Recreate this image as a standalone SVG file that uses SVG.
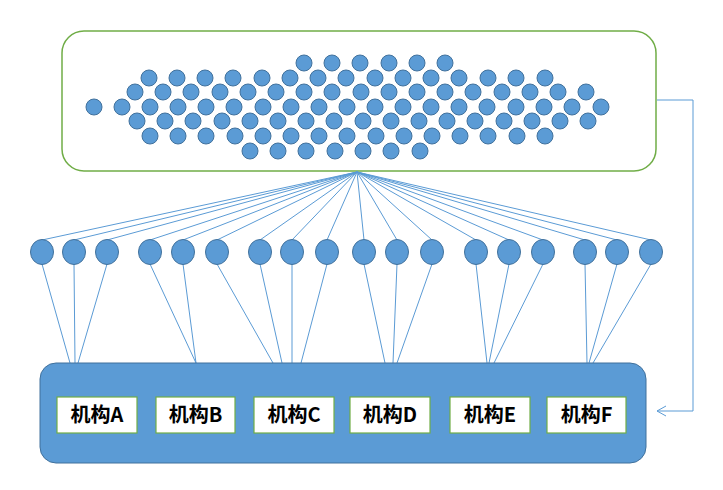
<svg xmlns="http://www.w3.org/2000/svg" width="723" height="490" viewBox="0 0 723 490">
<style>
.d{fill:#5b9bd5;stroke:#41719c;stroke-width:1}
.l{stroke:#5b9bd5;stroke-width:1;fill:none}
.lb{fill:#fff;stroke:#70ad47;stroke-width:1.2}
.t{font-family:"Noto Sans CJK SC","Liberation Sans",sans-serif;font-weight:bold;font-size:20px;fill:#000;text-anchor:middle}
</style>
<defs><marker id="a" markerWidth="12" markerHeight="12" refX="10" refY="6" orient="auto" markerUnits="userSpaceOnUse"><path d="M1,1 L10,6 L1,11" fill="none" stroke="#5b9bd5" stroke-width="1"/></marker></defs>
<g id="top"><rect x="62" y="31" width="594" height="140" rx="22" fill="#fff" stroke="#70ad47" stroke-width="1.5"/>
<g id="grid" class="d">
<circle cx="304" cy="63" r="8"/><circle cx="332" cy="63" r="8"/><circle cx="360" cy="63" r="8"/><circle cx="389" cy="63" r="8"/><circle cx="417" cy="63" r="8"/><circle cx="445" cy="63" r="8"/>
<circle cx="149" cy="78" r="8"/><circle cx="177" cy="78" r="8"/><circle cx="205" cy="78" r="8"/><circle cx="233" cy="78" r="8"/><circle cx="262" cy="78" r="8"/><circle cx="290" cy="78" r="8"/><circle cx="318" cy="78" r="8"/><circle cx="346" cy="78" r="8"/><circle cx="375" cy="78" r="8"/><circle cx="403" cy="78" r="8"/><circle cx="431" cy="78" r="8"/><circle cx="459" cy="78" r="8"/><circle cx="488" cy="78" r="8"/><circle cx="516" cy="78" r="8"/><circle cx="545" cy="78" r="8"/>
<circle cx="135" cy="92" r="8"/><circle cx="163" cy="92" r="8"/><circle cx="191" cy="92" r="8"/><circle cx="220" cy="92" r="8"/><circle cx="248" cy="92" r="8"/><circle cx="276" cy="92" r="8"/><circle cx="304" cy="92" r="8"/><circle cx="332" cy="92" r="8"/><circle cx="361" cy="92" r="8"/><circle cx="389" cy="92" r="8"/><circle cx="417" cy="92" r="8"/><circle cx="445" cy="92" r="8"/><circle cx="473" cy="92" r="8"/><circle cx="502" cy="92" r="8"/><circle cx="530" cy="92" r="8"/><circle cx="558" cy="92" r="8"/><circle cx="586" cy="92" r="8"/>
<circle cx="94" cy="107" r="8"/><circle cx="122" cy="107" r="8"/><circle cx="150" cy="107" r="8"/><circle cx="178" cy="107" r="8"/><circle cx="206" cy="107" r="8"/><circle cx="234" cy="107" r="8"/><circle cx="263" cy="107" r="8"/><circle cx="291" cy="107" r="8"/><circle cx="319" cy="107" r="8"/><circle cx="347" cy="107" r="8"/><circle cx="375" cy="107" r="8"/><circle cx="403" cy="107" r="8"/><circle cx="431" cy="107" r="8"/><circle cx="459" cy="107" r="8"/><circle cx="487" cy="107" r="8"/><circle cx="516" cy="107" r="8"/><circle cx="544" cy="107" r="8"/><circle cx="572" cy="107" r="8"/><circle cx="601" cy="107" r="8"/>
<circle cx="137" cy="121" r="8"/><circle cx="165" cy="121" r="8"/><circle cx="193" cy="121" r="8"/><circle cx="222" cy="121" r="8"/><circle cx="250" cy="121" r="8"/><circle cx="278" cy="121" r="8"/><circle cx="306" cy="121" r="8"/><circle cx="334" cy="121" r="8"/><circle cx="363" cy="121" r="8"/><circle cx="391" cy="121" r="8"/><circle cx="419" cy="121" r="8"/><circle cx="447" cy="121" r="8"/><circle cx="475" cy="121" r="8"/><circle cx="504" cy="121" r="8"/><circle cx="532" cy="121" r="8"/><circle cx="560" cy="121" r="8"/><circle cx="588" cy="121" r="8"/>
<circle cx="150" cy="136" r="8"/><circle cx="178" cy="136" r="8"/><circle cx="206" cy="136" r="8"/><circle cx="235" cy="136" r="8"/><circle cx="263" cy="136" r="8"/><circle cx="291" cy="136" r="8"/><circle cx="319" cy="136" r="8"/><circle cx="347" cy="136" r="8"/><circle cx="376" cy="136" r="8"/><circle cx="404" cy="136" r="8"/><circle cx="432" cy="136" r="8"/><circle cx="460" cy="136" r="8"/><circle cx="488" cy="136" r="8"/><circle cx="517" cy="136" r="8"/><circle cx="545" cy="136" r="8"/>
<circle cx="250" cy="151" r="8"/><circle cx="278" cy="151" r="8"/><circle cx="306" cy="151" r="8"/><circle cx="335" cy="151" r="8"/><circle cx="363" cy="151" r="8"/><circle cx="391" cy="151" r="8"/><circle cx="420" cy="151" r="8"/>
</g></g>
<g id="connectors" class="l">
<path d="M357,172L42,240M357,172L74,240M357,172L107,240M357,172L150,240M357,172L183,240M357,172L217,240M357,172L260,240M357,172L292,240M357,172L327,240M357,172L364,240M357,172L397,240M357,172L432,240M357,172L476,240M357,172L509,240M357,172L543,240M357,172L585,240M357,172L617,240M357,172L651,240"/>
<path d="M42,264L70,363M74,264L75,363M107,264L78,363M150,264L196,363M183,264L196,363M217,264L273,363M260,264L282,363M292,264L292,363M327,264L301,363M364,264L385,363M397,264L393,363M432,264L397,363M476,264L487,363M509,264L489,363M543,264L494,363M585,264L587,363M617,264L589,363M651,264L593,363"/>
<path d="M657,100H693V411H657" marker-end="url(#a)"/>
</g>
<g id="mid" class="d">
<ellipse cx="42" cy="252" rx="11.5" ry="12.5"/><ellipse cx="74" cy="252" rx="11.5" ry="12.5"/><ellipse cx="107" cy="252" rx="11.5" ry="12.5"/><ellipse cx="150" cy="252" rx="11.5" ry="12.5"/><ellipse cx="183" cy="252" rx="11.5" ry="12.5"/><ellipse cx="217" cy="252" rx="11.5" ry="12.5"/><ellipse cx="260" cy="252" rx="11.5" ry="12.5"/><ellipse cx="292" cy="252" rx="11.5" ry="12.5"/><ellipse cx="327" cy="252" rx="11.5" ry="12.5"/><ellipse cx="364" cy="252" rx="11.5" ry="12.5"/><ellipse cx="397" cy="252" rx="11.5" ry="12.5"/><ellipse cx="432" cy="252" rx="11.5" ry="12.5"/><ellipse cx="476" cy="252" rx="11.5" ry="12.5"/><ellipse cx="509" cy="252" rx="11.5" ry="12.5"/><ellipse cx="543" cy="252" rx="11.5" ry="12.5"/><ellipse cx="585" cy="252" rx="11.5" ry="12.5"/><ellipse cx="617" cy="252" rx="11.5" ry="12.5"/><ellipse cx="651" cy="252" rx="11.5" ry="12.5"/>
</g>
<g id="bottom"><rect x="40" y="363" width="606" height="100" rx="16" class="d"/></g>
<g id="orgA"><rect x="57" y="397" width="80" height="36" class="lb"/><text x="97" y="422" class="t">机构A</text></g>
<g id="orgB"><rect x="156" y="397" width="79" height="36" class="lb"/><text x="195.5" y="422" class="t">机构B</text></g>
<g id="orgC"><rect x="254" y="397" width="80" height="36" class="lb"/><text x="294" y="422" class="t">机构C</text></g>
<g id="orgD"><rect x="350" y="397" width="80" height="36" class="lb"/><text x="390" y="422" class="t">机构D</text></g>
<g id="orgE"><rect x="450" y="397" width="80" height="36" class="lb"/><text x="490" y="422" class="t">机构E</text></g>
<g id="orgF"><rect x="547" y="397" width="79" height="36" class="lb"/><text x="586.5" y="422" class="t">机构F</text></g>
</svg>
